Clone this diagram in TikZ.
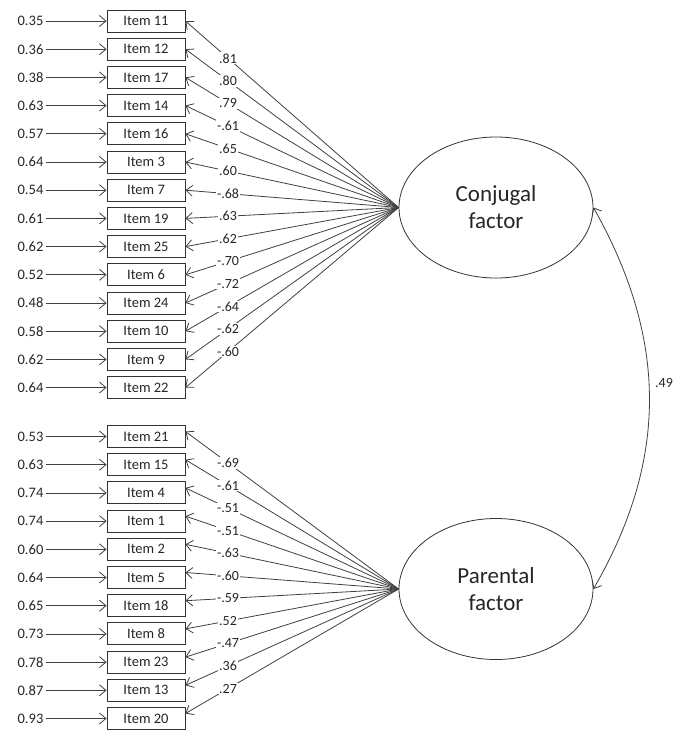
\documentclass[tikz,border=0pt]{standalone}
\usepackage{fontspec}
\setmainfont{Carlito}
\usetikzlibrary{arrows.meta,shapes.geometric}
\begin{document}
\begin{tikzpicture}[x=1pt,y=-1pt,
  ln/.style={draw=black!75, line width=0.8pt},
  tipend/.style={-{Straight Barb[length=6.5pt,width=11pt]}},
  itembox/.style={draw=black!80, line width=0.9pt, minimum width=78pt, minimum height=22pt, inner sep=0pt, text=black!85, font=\fontsize{14.5}{16}\selectfont},
  errlab/.style={inner sep=2pt, text=black!85, font=\fontsize{14.5}{16}\selectfont},
  load/.style={fill=white, inner sep=1pt, text=black!85, font=\fontsize{14}{16}\selectfont},
  factor/.style={draw=black!80, line width=0.8pt, ellipse, minimum width=194pt, minimum height=141pt, inner sep=0pt, align=center, text=black!85, font=\fontsize{23}{27}\selectfont}]
\useasboundingbox (0,0) rectangle (683,749);
\node[factor] (C) at (496,207.5) {Conjugal\\factor};
\node[factor] (P) at (496,589) {Parental\\factor};
\foreach \n/\e/\l [count=\i from 0] in {11/0.35/.81, 12/0.36/.80, 17/0.38/.79, 14/0.63/-.61, 16/0.57/.65, 3/0.64/.60, 7/0.54/-.68, 19/0.61/.63, 25/0.62/.62, 6/0.52/-.70, 24/0.48/-.72, 10/0.58/-.64, 9/0.62/-.62, 22/0.64/-.60} {
  \node[itembox] (i\n) at (146,{21+28.2*\i}) {Item \n};
  \node[errlab] (e\n) at (30.5,{21+28.2*\i}) {\e};
  \draw[ln,tipend] (e\n.east) -- (i\n.west);
  \draw[ln,tipend] (C.west) -- node[load,pos=0.8] {\l} (i\n.east);
}
\foreach \n/\e/\l [count=\i from 0] in {21/0.53/-.69, 15/0.63/-.61, 4/0.74/-.51, 1/0.74/-.51, 2/0.60/-.63, 5/0.64/-.60, 18/0.65/-.59, 8/0.73/.52, 23/0.78/-.47, 13/0.87/.36, 20/0.93/.27} {
  \node[itembox] (i\n) at (146,{436.5+28.2*\i}) {Item \n};
  \node[errlab] (e\n) at (30.5,{436.5+28.2*\i}) {\e};
  \draw[ln,tipend] (e\n.east) -- (i\n.west);
  \draw[ln,tipend] (P.west) -- node[load,pos=0.8] {\l} ([yshift=5pt]i\n.east);
}
\node[load] (r) at (664,383) {.49};
\draw[ln,{Straight Barb[length=6.5pt,width=11pt]}-{Straight Barb[length=6.5pt,width=11pt]}] (C.east) .. controls (668,340) and (668,460) .. (P.east);
\end{tikzpicture}
\end{document}
